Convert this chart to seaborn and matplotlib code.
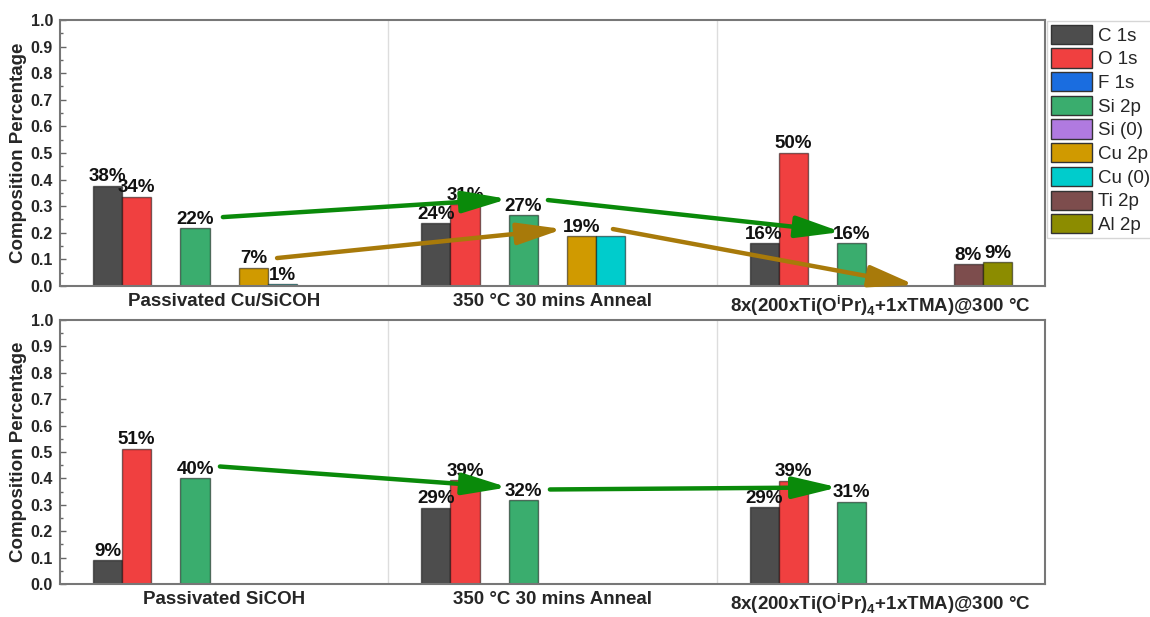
import matplotlib
matplotlib.use('Agg')
import matplotlib.pyplot as plt
import matplotlib.colors as mcolors
from matplotlib.patches import Patch
import seaborn as sns
import numpy as np
import pandas as pd

nan = np.nan

peaks = ['C 1s', 'O 1s', 'F 1s', 'Si 2p', 'Si (0)', 'Cu 2p', 'Cu (0)', 'Ti 2p', 'Al 2p']
peak_colors = ['#4d4d4d', '#f04040', '#1a6de0', '#3aad6e', '#b07ae0',
               '#d09a00', '#00cccc', '#7d4d4d', '#8c8c00']

samples = ['passivated', 'anneal', 'ald']
top_ticklabels = ['Passivated Cu/SiCOH', '350 °C 30 mins Anneal',
                  r'8x(200xTi(O$^{\mathbf{i}}$Pr)$_{\mathbf{4}}$+1xTMA)@300 °C']
bottom_ticklabels = ['Passivated SiCOH', '350 °C 30 mins Anneal',
                     r'8x(200xTi(O$^{\mathbf{i}}$Pr)$_{\mathbf{4}}$+1xTMA)@300 °C']

# Cu/SiCOH sample (top panel)
top_c1s = [0.377, 0.236, 0.160]
top_o1s = [0.336, 0.308, 0.501]
top_si2p = [0.218, 0.266, 0.160]
top_cu2p = [0.069, 0.187, nan]
top_cu0 = [0.008, 0.187, nan]
top_ti2p = [nan, nan, 0.082]
top_al2p = [nan, nan, 0.090]

# SiCOH sample (bottom panel)
bot_c1s = [0.091, 0.289, 0.292]
bot_o1s = [0.513, 0.392, 0.391]
bot_si2p = [0.402, 0.319, 0.312]

# labels left out in the original figure
hidden_labels = [(1, 'Cu (0)')]

# trend arrows (start x, start y, end x, end y, colour), x in category units
top_arrows = [(-0.004, 0.259, 0.864, 0.327, '#0a8a0a'),
              (0.986, 0.323, 1.880, 0.203, '#0a8a0a'),
              (0.161, 0.105, 1.032, 0.214, '#a87a0a'),
              (1.184, 0.214, 2.104, 0.004, '#a87a0a')]
bottom_arrows = [(-0.013, 0.445, 0.864, 0.366, '#0a8a0a'),
                 (0.992, 0.358, 1.870, 0.366, '#0a8a0a')]


def long_frame(columns):
    df = pd.DataFrame(columns, index=samples)
    df = df.reset_index(names='sample')
    df = df.melt(id_vars='sample', var_name='peak', value_name='fraction')
    return df.dropna()


top_df = long_frame({'C 1s': top_c1s, 'O 1s': top_o1s, 'Si 2p': top_si2p,
                     'Cu 2p': top_cu2p, 'Cu (0)': top_cu0,
                     'Ti 2p': top_ti2p, 'Al 2p': top_al2p})
bot_df = long_frame({'C 1s': bot_c1s, 'O 1s': bot_o1s, 'Si 2p': bot_si2p})

sns.set_theme(style='white')
plt.rcParams['font.family'] = ['Liberation Sans', 'DejaVu Sans']
plt.rcParams['mathtext.fontset'] = 'custom'
plt.rcParams['mathtext.bf'] = 'Liberation Sans:bold'
plt.rcParams['mathtext.rm'] = 'Liberation Sans'

palette = dict(zip(peaks, peak_colors))
color_to_peak = {mcolors.to_hex(c): p for p, c in palette.items()}

fig = plt.figure(figsize=(11.5, 6.17), dpi=100)
ax_top = fig.add_axes([0.0522, 0.5365, 0.8565, 0.4311])
ax_bot = fig.add_axes([0.0522, 0.0535, 0.8565, 0.4279])


def draw_panel(ax, df, ticklabels, arrows):
    sns.barplot(data=df, x='sample', y='fraction', hue='peak', order=samples,
                hue_order=peaks, palette=palette, saturation=1, width=0.8,
                errorbar=None, edgecolor=(0, 0, 0, 0.5), linewidth=1.0,
                legend=False, ax=ax)

    for cont in ax.containers:
        for bar in cont:
            h = bar.get_height()
            if np.isnan(h):
                continue
            xc = bar.get_x() + bar.get_width() / 2
            peak = color_to_peak.get(mcolors.to_hex(bar.get_facecolor()))
            if (int(round(xc)), peak) in hidden_labels:
                continue
            ax.text(xc, h + 0.001, f'{h * 100:.0f}%', ha='center', va='bottom',
                    fontsize=13.5, fontweight='bold', color='#111111')

    for x0, y0, x1, y1, col in arrows:
        ax.annotate('', xy=(x1, y1), xytext=(x0, y0),
                    arrowprops=dict(arrowstyle='-|>,head_length=2.3,head_width=0.55',
                                    color=col, lw=3.2, shrinkA=0, shrinkB=0),
                    zorder=5)

    for xs in [0.5, 1.5]:
        ax.axvline(xs, color='#dddddd', lw=1, zorder=0)

    ax.set_xlim(-0.5, 2.5)
    ax.set_ylim(0, 1.0)
    ax.set_yticks(np.arange(0, 1.01, 0.1))
    ax.set_yticks(np.arange(0.05, 1.0, 0.1), minor=True)
    ax.set_yticklabels([f'{v:.1f}' for v in np.arange(0, 1.01, 0.1)])
    ax.set_xticks(range(len(samples)))
    ax.set_xticklabels(ticklabels)
    ax.tick_params(axis='y', which='major', direction='in', length=4, width=1,
                   color='#666666', labelsize=11.5, pad=5, left=True)
    ax.tick_params(axis='y', which='minor', direction='in', length=2, width=1,
                   color='#666666', left=True)
    ax.tick_params(axis='x', length=0, labelsize=13.5, pad=5)
    for lab in ax.get_xticklabels() + ax.get_yticklabels():
        lab.set_fontweight('bold')
    ax.set_xlabel('')
    ax.set_ylabel('Composition Percentage', fontsize=13.5, fontweight='bold', labelpad=3)
    for sp in ax.spines.values():
        sp.set_color('#777777')
        sp.set_linewidth(1.5)


draw_panel(ax_top, top_df, top_ticklabels, top_arrows)
draw_panel(ax_bot, bot_df, bottom_ticklabels, bottom_arrows)

handles = [Patch(facecolor=c, edgecolor='#333333', linewidth=1.0, label=p)
           for p, c in zip(peaks, peak_colors)]
fig.legend(handles=handles, loc='upper left', bbox_to_anchor=(0.9105, 0.966),
           fontsize=13.5, handlelength=2.2, handleheight=1.2, labelspacing=0.2,
           handletextpad=0.3, borderpad=0.2, borderaxespad=0, frameon=True,
           fancybox=False, edgecolor='#cccccc')

fig.savefig('out.png', dpi=100)
